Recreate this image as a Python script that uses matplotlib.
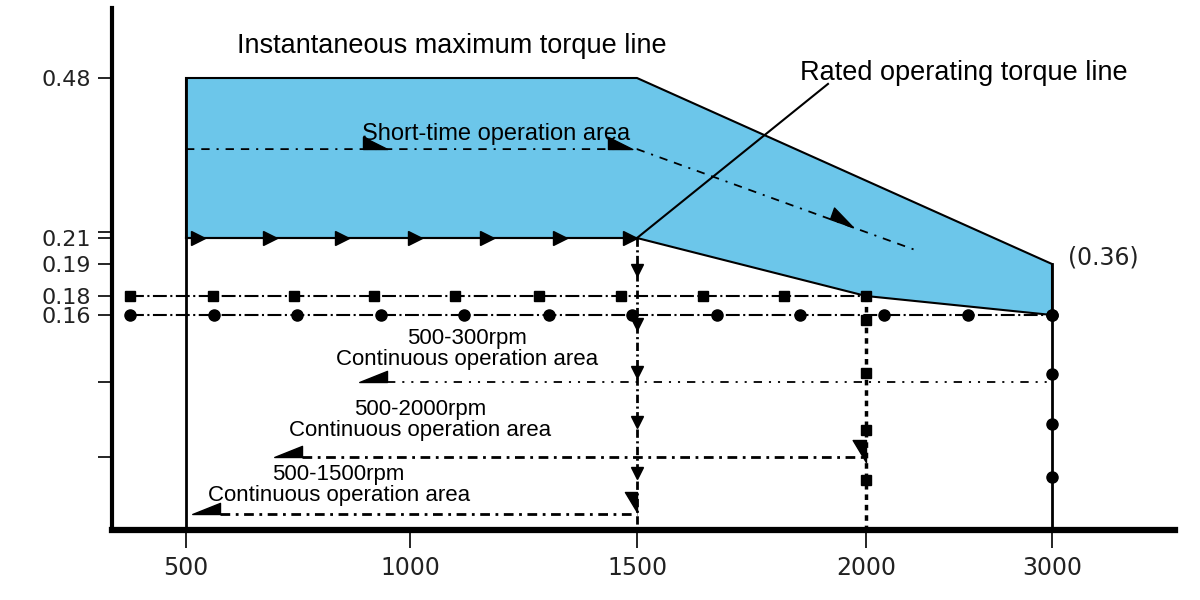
import numpy as np
import matplotlib
matplotlib.use('Agg')
import matplotlib.pyplot as plt
from matplotlib.path import Path
from matplotlib.markers import MarkerStyle
from matplotlib.transforms import Affine2D

plt.rcParams['lines.scale_dashes'] = False

# ---------------- data ----------------
rpm_ticks = [500, 1000, 1500, 2000, 3000]
torque_ticks = [0.16, 0.18, 0.19, 0.21, 0.48]
torque_tick_labels = ['0.16', '0.18', '0.19', '0.21', '0.48']
torque_minor_ticks = [0.22, 0.11, 0.054]

# instantaneous maximum torque line (top of blue area)
max_rpm = [500, 1500, 3000]
max_torque = [0.48, 0.48, 0.19]
# rated operating torque line (bottom of blue area, right part)
rated_rpm = [3000, 3000, 2000, 1500]
rated_torque = [0.19, 0.16, 0.18, 0.21]
base_rpm = [1500, 500]
base_torque = [0.21, 0.21]

arrow_rpm_021 = [527, 688, 848, 1011, 1170, 1330, 1485]

short_rpm = [500, 1500, 2280]
short_torque = [0.36, 0.36, 0.20]
short_mark_rpm = [895, 1436]
short_mark_torque = [0.36, 0.36]
short_diag_mark = (1921, 0.242)

sq_rpm = [375, 560, 740, 920, 1100, 1285, 1465, 1645, 1820, 2000]
sq_torque = 0.18
ci_rpm = [375, 562, 748, 935, 1120, 1306, 1490, 1675, 1856, 2097, 2548, 3000]
ci_torque = 0.16

cont_levels = [0.11, 0.054, 0.012]
cont_start = [949, 759, 576]
cont_end = [3000, 2000, 1500]
cont_speed_labels = ['500-300rpm', '500-2000rpm', '500-1500rpm']

v1500_marks = [0.188, 0.153, 0.1176, 0.0804, 0.0424]
v2000_marks = [0.156, 0.1168, 0.0744, 0.0372]
v3000_marks = [0.16, 0.1161, 0.0789, 0.0394]
end_mark_1500 = 0.0283
end_mark_2000 = 0.067

leader_end = (1917, 0.47)

# ---------------- non-linear axis scales ----------------
X_R = [0, 500, 1000, 1500, 2000, 3000, 4000]
X_P = [-38, 186, 410, 637, 866, 1052, 1238]
Y_T = [0.0, 0.16, 0.18, 0.19, 0.21, 0.48, 0.65]
Y_H = [70, 285, 304, 336, 362, 522, 622]


def fx(r):
    return np.interp(r, X_R, X_P)


def ix(p):
    return np.interp(p, X_P, X_R)


def fy(t):
    return np.interp(t, Y_T, Y_H)


def iy(h):
    return np.interp(h, Y_H, Y_T)


fig = plt.figure(figsize=(12, 6), dpi=100)
ax = fig.add_axes([112 / 1200, 70 / 600, (1175 - 112) / 1200, (592 - 70) / 600])
ax.set_xscale('function', functions=(fx, ix))
ax.set_yscale('function', functions=(fy, iy))
ax.set_xlim(ix(112), ix(1175))
ax.set_ylim(iy(70), iy(592))

BLUE = '#6cc6ea'
K = 'black'

# blue area
poly_r = max_rpm + rated_rpm + base_rpm
poly_t = max_torque + rated_torque + base_torque
ax.fill(poly_r, poly_t, facecolor=BLUE, edgecolor=K, lw=1.5, zorder=1)

# vertical solid lines at 500 and 3000
ax.plot([500, 500], [0.48, 0], color=K, lw=2, zorder=3)
ax.plot([3000, 3000], [0.19, 0], color=K, lw=2, zorder=3)

# 0.21 line with arrows
ax.plot(base_rpm, base_torque, color=K, lw=1.5, zorder=3)
ax.plot(arrow_rpm_021, [0.21] * len(arrow_rpm_021), ls='none', marker='>',
        ms=10, color=K, zorder=4)

# leader line for rated torque label
ax.plot([1500, leader_end[0]], [0.21, leader_end[1]], color=K, lw=1.5, zorder=3)


def tri(verts):
    return Path(verts + [verts[0]],
                [Path.MOVETO, Path.LINETO, Path.LINETO, Path.CLOSEPOLY])


right_half = tri([(0, 0), (0, 0.5), (1, 0)])
left_half = tri([(0, 0), (-1, 0), (0, 0.4)])
down_half = tri([(0, 0), (-0.6, 0), (0, -1)])

# short-time operation line
ax.plot(short_rpm, short_torque, color=K, lw=1.3,
        ls=(0, (6, 5, 6, 5, 1.5, 5)), zorder=3)
ax.plot(short_mark_rpm, short_mark_torque, ls='none', marker=right_half,
        ms=35, color=K, zorder=4)
ax.plot([short_diag_mark[0]], [short_diag_mark[1]], ls='none',
        marker=MarkerStyle(right_half, transform=Affine2D().rotate_deg(-19.6)),
        ms=35, color=K, zorder=4)

# 0.18 squares / 0.16 circles lines
ax.plot([sq_rpm[0], sq_rpm[-1]], [sq_torque] * 2, color=K, lw=1.5,
        ls=(0, (10, 2.5, 1.5, 2.5)), zorder=3)
ax.plot(sq_rpm, [sq_torque] * len(sq_rpm), ls='none', marker='s', ms=7.5,
        color=K, zorder=4)
ax.plot([ci_rpm[0], ci_rpm[-1]], [ci_torque] * 2, color=K, lw=1.5,
        ls=(0, (10, 2.5, 1.5, 2.5)), zorder=3)
ax.plot(ci_rpm, [ci_torque] * len(ci_rpm), ls='none', marker='o', ms=8,
        color=K, zorder=4)

# vertical 1500 (dash-dot with down triangles)
ax.plot([1500, 1500], [0.21, 0], color=K, lw=2, ls=(0, (6, 2.5, 1.5, 2.5)),
        zorder=3)
ax.plot([1500] * len(v1500_marks), v1500_marks, ls='none', marker='v', ms=9,
        color=K, zorder=4)
ax.plot([1500], [end_mark_1500], ls='none', marker=down_half, ms=29, color=K,
        zorder=4)

# vertical 2000 (dotted with squares)
ax.plot([2000, 2000], [0.18, 0], color=K, lw=2.5, ls=(0, (4, 3.5)), zorder=3)
ax.plot([2000] * len(v2000_marks), v2000_marks, ls='none', marker='s', ms=7,
        color=K, zorder=4)
ax.plot([2000], [end_mark_2000], ls='none', marker=down_half, ms=32, color=K,
        zorder=4)

# vertical 3000 circles
ax.plot([3000] * len(v3000_marks), v3000_marks, ls='none', marker='o', ms=8,
        color=K, zorder=4)

# continuous operation lines
cont_styles = [dict(lw=1.3, ls=(0, (6, 5, 1.5, 5, 1.5, 5))),
               dict(lw=2, ls=(0, (7, 4, 2, 4))),
               dict(lw=2, ls=(0, (7, 4, 2, 4)))]
for lev, s, e, st in zip(cont_levels, cont_start, cont_end, cont_styles):
    ax.plot([s, e], [lev, lev], color=K, zorder=3, **st)
    ax.plot([s], [lev], ls='none', marker=left_half, ms=40, color=K, zorder=4)

# axes styling
for side in ['top', 'right']:
    ax.spines[side].set_visible(False)
ax.spines['left'].set_linewidth(3)
ax.spines['bottom'].set_linewidth(4.5)
ax.set_xticks(rpm_ticks)
ax.set_xticklabels([str(v) for v in rpm_ticks])
ax.set_yticks(torque_ticks)
ax.set_yticklabels(torque_tick_labels)
ax.set_yticks(torque_minor_ticks, minor=True)
ax.tick_params(axis='x', direction='out', length=13, width=1.2, pad=6,
               labelsize=17, labelcolor='#222222', labelfontfamily='DejaVu Sans')
ax.tick_params(axis='y', which='both', direction='out', length=10, width=1.2,
               pad=5, labelsize=16, labelcolor='#222222',
               labelfontfamily='DejaVu Sans')


def fpx(x, y):
    return x / 1200, 1 - y / 600


TF = 'Liberation Sans'
fig.text(*fpx(237, 53), 'Instantaneous maximum torque line', fontsize=19.5,
         family=TF, ha='left', va='baseline')
fig.text(*fpx(800, 80), 'Rated operating torque line', fontsize=19.5,
         family=TF, ha='left', va='baseline')
fig.text(*fpx(362, 140), 'Short-time operation area', fontsize=17,
         family=TF, ha='left', va='baseline')
fig.text(*fpx(1068, 257), '(0.36)', fontsize=17, family='DejaVu Sans',
         color='#222222', ha='left', va='center')

speed_pos = [(467, 344), (420, 415), (338, 480)]
area_pos = [(467, 365), (420, 436), (339, 501)]
for lab, (sx, sy), (axx, ayy) in zip(cont_speed_labels, speed_pos, area_pos):
    fig.text(*fpx(sx, sy), lab, fontsize=16, family=TF, ha='center',
             va='baseline')
    fig.text(*fpx(axx, ayy), 'Continuous operation area', fontsize=16,
             family=TF, ha='center', va='baseline')

fig.savefig('out.png', dpi=100)
